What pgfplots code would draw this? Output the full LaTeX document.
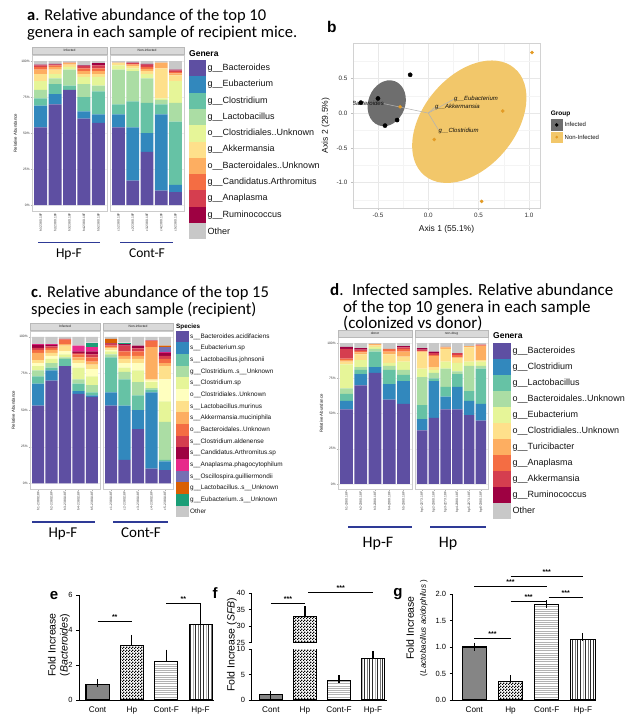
\documentclass[border=0pt]{standalone}
\usepackage{pgfplots}
\pgfplotsset{compat=1.18}
\usepackage{pgfplotstable}
\usepackage{fontspec}
\setmainfont{Liberation Sans}
\newfontfamily\cali{Carlito}
\usetikzlibrary{patterns}
\newcommand\fs[1]{\fontsize{#1}{#1}\selectfont}

\definecolor{ca1}{HTML}{5E4FA2}\definecolor{ca2}{HTML}{3288BD}\definecolor{ca3}{HTML}{66C2A5}
\definecolor{ca4}{HTML}{ABDDA4}\definecolor{ca5}{HTML}{E6F598}\definecolor{ca6}{HTML}{FEE08B}
\definecolor{ca7}{HTML}{FDAE61}\definecolor{ca8}{HTML}{F46D43}\definecolor{ca9}{HTML}{D53E4F}
\definecolor{ca10}{HTML}{9E0142}\definecolor{ca11}{HTML}{C8C8C8}
\definecolor{cc1}{HTML}{5E4FA2}\definecolor{cc2}{HTML}{3288BD}\definecolor{cc3}{HTML}{66C2A5}
\definecolor{cc4}{HTML}{ABDDA4}\definecolor{cc5}{HTML}{E6F598}\definecolor{cc6}{HTML}{FFFFBF}
\definecolor{cc7}{HTML}{FEE08B}\definecolor{cc8}{HTML}{FDAE61}\definecolor{cc9}{HTML}{F46D43}
\definecolor{cc10}{HTML}{D53E4F}\definecolor{cc11}{HTML}{9E0142}\definecolor{cc12}{HTML}{E7298A}
\definecolor{cc13}{HTML}{7570B3}\definecolor{cc14}{HTML}{D95F02}\definecolor{cc15}{HTML}{1B9E77}
\definecolor{cc16}{HTML}{C8C8C8}
\definecolor{hpblue}{HTML}{2E3A96}
\definecolor{stripg}{HTML}{D9D9D9}
\definecolor{ellO}{HTML}{F2C76A}
\definecolor{ellG}{HTML}{6E6E6E}
\definecolor{ptO}{HTML}{E39B25}
\definecolor{contg}{HTML}{858585}

\pgfdeclarepatternformonly{hl}{\pgfpoint{-1pt}{-1pt}}{\pgfpoint{100pt}{1pt}}{\pgfpoint{100pt}{2.2pt}}{%
  \pgfsetlinewidth{0.55pt}\pgfpathmoveto{\pgfqpoint{0pt}{0.5pt}}\pgfpathlineto{\pgfqpoint{100pt}{0.5pt}}\pgfusepath{stroke}}
\pgfdeclarepatternformonly{vl}{\pgfpoint{-1pt}{-1pt}}{\pgfpoint{1pt}{100pt}}{\pgfpoint{2.6pt}{100pt}}{%
  \pgfsetlinewidth{0.8pt}\pgfpathmoveto{\pgfqpoint{0.5pt}{0pt}}\pgfpathlineto{\pgfqpoint{0.5pt}{100pt}}\pgfusepath{stroke}}
\pgfdeclarepatternformonly{ck}{\pgfpointorigin}{\pgfqpoint{2.6pt}{2.6pt}}{\pgfqpoint{2.6pt}{2.6pt}}{%
  \pgfpathrectangle{\pgfpointorigin}{\pgfqpoint{1.35pt}{1.35pt}}%
  \pgfpathrectangle{\pgfqpoint{1.3pt}{1.3pt}}{\pgfqpoint{1.35pt}{1.35pt}}\pgfusepath{fill}}

\pgfplotsset{
 stk/.style={scale only axis, anchor=south west, ybar stacked, bar width=0.9,
   ymin=-4, ymax=104, ytick={0,25,50,75,100}, yticklabels={0\%,25\%,50\%,75\%,100\%},
   axis line style={draw=gray!40, line width=0.35pt},
   tick style={draw=gray!60, line width=0.3pt}, major tick length=1.3pt, tick align=outside,
   tick pos=left, ymajorgrids, grid style={gray!13, line width=0.3pt},
   x tick label style={rotate=90, anchor=east, font=\fs{3.3}, text=gray!40!black, inner sep=0.8pt},
   y tick label style={font=\fs{3.3}, text=gray!40!black, inner sep=0.8pt},
   ylabel style={font=\fs{4.3}, text=gray!15!black}},
 noy/.style={yticklabels={}, y tick style={draw=none}, ylabel={}},
 bot/.style={scale only axis, anchor=south west, axis lines*=left, axis line style={line width=1pt},
   tick style={line width=1pt, black}, major tick length=3pt, tick align=outside,
   x tick style={draw=none},
   xtick={0,1,2,3}, xticklabels={Cont,Hp,Cont-F,Hp-F},
   x tick label style={font=\fs{8.2}},
   y tick label style={font=\fs{7.5}},
   clip=false, ymin=0},
 bs/.style={ybar, bar width=0.67, bar shift=0pt, draw=black, line width=1.1pt,
   error bars/y dir=plus, error bars/y explicit,
   error bars/error bar style={line width=1.1pt, black},
   error bars/error mark options={line width=1.1pt, black, mark size=4pt}},
}
\newcommand{\stackbars}[3]{\pgfplotsinvokeforeach{1,...,#2}{\addplot[fill=#3##1, draw=none] table[x=x,y=s##1]{#1};}}

\begin{document}
\pgfplotstableread{
x s1 s2 s3 s4 s5 s6 s7 s8 s9 s10 s11
1 54 15 5 6 6 5 3 2 1 0.5 2.5
2 70 7 7 4 3 3 2 1 0.5 0.5 2
3 80 0 3 11 2 1.5 1 0.5 0 0 1
4 60 5 10 9 5 2 2 2 1.5 0.5 3
5 57 6 16 4 6 2 2 2 2 1.5 1.5
}\tabAi
\pgfplotstableread{
x s1 s2 s3 s4 s5 s6 s7 s8 s9 s10 s11
1 54 9 7 24 3 1.5 0.5 0 0 0 1
2 17 37 18 21 2 1.5 1 0.5 0.5 0.5 1
3 37 13 21 17 3 2 1.5 1.5 1.5 0.5 2
4 10 53 7 3 1 21 4 0 0 0 1
5 9 5 44 13 15 4 1.5 1 1 0.5 6
}\tabAn
\pgfplotstableread{
x s1 s2 s3 s4 s5 s6 s7 s8 s9 s10 s11 s12 s13 s14 s15 s16
1 53 15 5 4 3 2 2 5 2 1.5 2 0.5 0 0 0 5
2 70 7 2 3 3 2 2 2 1.5 1 1 0.5 0 0 0 5
3 80 0 5 1 2 2 4 1 3 0.5 0 0 0 0 0 1.5
4 61 2 5 3 8 3 2 2 2 1 1 4 0 0 0 6
5 59 1 2 5 6 5 3 2 3 2 2 3 0 0 3 4
}\tabCi
\pgfplotstableread{
x s1 s2 s3 s4 s5 s6 s7 s8 s9 s10 s11 s12 s13 s14 s15 s16
1 53 9 24 2 2 1 1 1 1 1 0.5 0 0 3 0 1.5
2 16 37 18 5 3 3 3 2 3 4 1 0 0 0 1 4
3 37 13 10 9 8 5 3 2 3 2 2 0 0 0 0 6
4 10 52 2 1 4 1 1 22 4 0.5 0 0 0 0 0 2.5
5 9 6 1 26 14 15 9 2 3 2 2 0.5 3.5 1 0 6
}\tabCn
\pgfplotstableread{
x s1 s2 s3 s4 s5 s6 s7 s8 s9 s10 s11
1 53 6 5 4 17 2 1 1 7 1.5 2.5
2 70 8 3 2 5 4 1.5 1 1 1 3.5
3 79 4 11 2 1.5 1 1 0 0 0 0.5
4 60 11 10 3 2 6 2 2 0 0 4
5 57 16 4.5 3.5 6 3.5 3.5 2 1 1 2
}\tabDd
\pgfplotstableread{
x s1 s2 s3 s4 s5 s6 s7 s8 s9 s10 s11
1 38 8 10 20 6 12 0 0.5 1 1 3.5
2 47 26 2 4 2 2 8 0.5 1.5 1 6
3 53 9 7 13 5 9 1 0.5 0 0 2.5
4 53 16 9 2 6 3.5 0.5 1.5 1.5 0 7
5 49 10 7 18 3 10 1 0 0 0 2
6 45 12 25 2 3 1 10 0.5 0.5 0 1
}\tabDn

\begin{tikzpicture}
\path[use as bounding box] (0pt,0pt) rectangle (635pt,-726pt);

% ---------------- panel a ----------------
\begin{axis}[stk, at={(32pt,-210.8pt)}, width=75pt, height=155.5pt, xmin=0.4, xmax=5.6, xtick={1,...,5},
  xticklabels={h1-2380.18F,h2-2380.18F,h3-2380.18F,h4-2380.18F,h5-2380.18F}, ylabel={Relative Abundance}]
\stackbars{\tabAi}{11}{ca}
\end{axis}
\begin{axis}[stk, noy, at={(110pt,-210.8pt)}, width=74pt, height=155.5pt, xmin=0.4, xmax=5.6, xtick={1,...,5},
  xticklabels={c1-2380.18F,c2-2380.18F,c3-2380.18F,c4-2380.18F,c5-2380.18F}]
\stackbars{\tabAn}{11}{ca}
\end{axis}

% ---------------- panel c ----------------
\begin{axis}[stk, at={(30pt,-489.2pt)}, width=70pt, height=158.3pt, xmin=0.4, xmax=5.6, xtick={1,...,5},
  xticklabels={h1-2380.18F,h2-2380.18F,h3-2380.18F,h4-2380.18F,h5-2380.18F}, ylabel={Relative Abundance}]
\stackbars{\tabCi}{16}{cc}
\end{axis}
\begin{axis}[stk, noy, at={(103pt,-489.2pt)}, width=70pt, height=158.3pt, xmin=0.4, xmax=5.6, xtick={1,...,5},
  xticklabels={c1-2380.18F,c2-2380.18F,c3-2380.18F,c4-2380.18F,c5-2380.18F}]
\stackbars{\tabCn}{16}{cc}
\end{axis}

% ---------------- panel d ----------------
\begin{axis}[stk, at={(338pt,-489.6pt)}, width=74pt, height=152pt, xmin=0.4, xmax=5.6, xtick={1,...,5},
  xticklabels={h1-2380.18F,h2-2380.18F,h3-2380.18F,h4-2380.18F,h5-2380.18F}, ylabel={Relative Abundance}]
\stackbars{\tabDd}{11}{ca}
\end{axis}
\begin{axis}[stk, noy, at={(415pt,-489.6pt)}, width=73pt, height=152pt, xmin=0.4, xmax=6.6, xtick={1,...,6},
  xticklabels={hp1-2273.18F,hp2-2380.18F,hp3-2273.18F,hp4-2380.18F,hp5-2273.18F,hp6-2380.18F}]
\stackbars{\tabDn}{11}{ca}
\end{axis}

% ---------------- panel b ----------------
\begin{axis}[scale only axis, anchor=south west, at={(353pt,-208pt)}, width=187pt, height=165pt,
  xmin=-0.748, xmax=1.11, ymin=-1.364, ymax=1.007,
  xtick={-0.5,0,0.5,1}, xticklabels={-0.5,0.0,0.5,1.0},
  ytick={-1,-0.5,0,0.5}, yticklabels={-1.0,-0.5,0.0,0.5},
  minor xtick={-0.25,0.25,0.75}, minor ytick={-1.25,-0.75,-0.25,0.25,0.75},
  xmajorgrids, ymajorgrids, xminorgrids, yminorgrids,
  major grid style={gray!18, line width=0.45pt}, minor grid style={gray!9, line width=0.3pt},
  minor tick length=0pt, major tick length=2pt, tick align=outside, tick pos=left,
  axis line style={gray!35, line width=0.4pt}, tick style={gray!50, line width=0.4pt},
  tick label style={font=\fs{6.3}, text=gray!35!black},
  xlabel={Axis 1 (55.1\%)}, ylabel={Axis 2 (29.5\%)},
  label style={font=\fs{8.5}, text=gray!15!black}]
\fill[ellO] (axis cs:0.4075,-0.124) ellipse [x radius=70pt, y radius=46pt, rotate=50];
\fill[ellG] (axis cs:-0.413,0.141) ellipse [x radius=18.5pt, y radius=23.5pt, rotate=-20];
\draw[gray!60, line width=0.55pt] (axis cs:0,0) -- (axis cs:-0.44,0.135);
\draw[gray!60, line width=0.55pt] (axis cs:0,0) -- (axis cs:0.255,0.2);
\draw[gray!60, line width=0.55pt] (axis cs:0,0) -- (axis cs:0.066,0.086);
\draw[gray!60, line width=0.55pt] (axis cs:0,0) -- (axis cs:0.1,-0.24);
\addplot[only marks, mark=*, mark size=2.1pt, black] coordinates {(-0.67,0.15) (-0.50,0.21) (-0.43,-0.18) (-0.31,-0.10) (-0.18,0.55)};
\addplot[only marks, mark=*, mark size=1.6pt, color=ptO] coordinates {(-0.28,0.09) (0.06,-0.38) (0.74,0.03) (1.03,0.87) (0.53,-1.27)};
\node[anchor=east, inner sep=0pt, font=\fs{6}\itshape, text=gray!10!black] at (axis cs:-0.44,0.135) {g\_\_Bacteroides};
\node[anchor=west, inner sep=0pt, font=\fs{6}\itshape, text=gray!10!black] at (axis cs:0.255,0.2) {g\_\_Eubacterium};
\node[anchor=west, inner sep=0pt, font=\fs{6}\itshape, text=gray!10!black] at (axis cs:0.066,0.086) {g\_\_Akkermansia};
\node[anchor=west, inner sep=0pt, font=\fs{6}\itshape, text=gray!10!black] at (axis cs:0.1,-0.25) {g\_\_Clostridium};
\end{axis}

% ---------------- panel e ----------------
\begin{axis}[bot, at={(79pt,-700pt)}, width=135pt, height=105pt, xmin=-0.54, xmax=3.39, ymax=6,
  ytick={0,2,4,6}, yticklabels={0,2,4,6}]
\addplot[bs, fill=contg] coordinates {(0,0.9) +- (0,0.07)};
\addplot[bs, pattern=ck, pattern color=black] coordinates {(1,3.1) +- (0,0.4)};
\addplot[bs, pattern=hl, pattern color=gray!60] coordinates {(2,2.2) +- (0,0.45)};
\addplot[bs, pattern=vl, pattern color=gray!35!black] coordinates {(3,4.3) +- (0,1.0)};
\draw[line width=0.8pt] (axis cs:0,4.47) -- (axis cs:1,4.47) node[midway, above, inner sep=1.5pt, font=\fs{7}\bfseries] {**};
\draw[line width=0.8pt] (axis cs:2,5.52) -- (axis cs:3,5.52) node[midway, above, inner sep=1.5pt, font=\fs{7}\bfseries] {**};
\end{axis}

% ---------------- panel f ----------------
\begin{axis}[bot, at={(251.5pt,-700pt)}, width=135.5pt, height=50.7pt, xmin=-0.57, xmax=3.41, ymax=10,
  ytick={0,5,10}, yticklabels={0,5,10}, clip=true]
\addplot[bs, fill=contg] coordinates {(0,1.0) +- (0,0.05)};
\addplot[bs, pattern=ck, pattern color=black] coordinates {(1,33) +- (0,1.8)};
\addplot[bs, pattern=hl, pattern color=gray!60] coordinates {(2,3.8) +- (0,0.3)};
\addplot[bs, pattern=vl, pattern color=gray!35!black] coordinates {(3,8.2) +- (0,0.7)};
\end{axis}
\begin{axis}[bot, at={(251.5pt,-642.7pt)}, width=135.5pt, height=49.4pt, xmin=-0.57, xmax=3.41, ymin=25, ymax=40,
  ytick={25,30,35,40}, yticklabels={25,30,35,40}, axis x line=none, xtick=\empty, clip=true, clip mode=individual]
\addplot[bs, pattern=ck, pattern color=black] coordinates {(1,33) +- (0,1.8)};
\draw[line width=0.8pt] (axis cs:0,37) -- (axis cs:1,37) node[midway, above, inner sep=1.5pt, font=\fs{7}\bfseries] {***};
\draw[line width=0.8pt] (axis cs:1.1,40.3) -- (axis cs:3,40.3) node[midway, above, inner sep=1.5pt, font=\fs{7}\bfseries] {***};
\end{axis}

% ---------------- panel g ----------------
\begin{axis}[bot, at={(452.6pt,-700pt)}, width=143pt, height=106pt, xmin=-0.6, xmax=3.35, ymax=2,
  ytick={0,0.5,1,1.5,2}, yticklabels={0.0,0.5,1.0,1.5,2.0}]
\addplot[bs, fill=contg] coordinates {(0,1.0) +- (0,0.005)};
\addplot[bs, pattern=ck, pattern color=black] coordinates {(1,0.35) +- (0,0.04)};
\addplot[bs, pattern=hl, pattern color=gray!60] coordinates {(2,1.8) +- (0,0.01)};
\addplot[bs, pattern=vl, pattern color=gray!35!black] coordinates {(3,1.15) +- (0,0.04)};
\draw[line width=0.8pt] (axis cs:0,1.164) -- (axis cs:1,1.164) node[midway, above, inner sep=1.5pt, font=\fs{7}\bfseries] {***};
\draw[line width=0.8pt] (axis cs:1,1.855) -- (axis cs:2,1.855) node[midway, above, inner sep=1.5pt, font=\fs{7}\bfseries] {***};
\draw[line width=0.8pt] (axis cs:2.05,1.93) -- (axis cs:3,1.93) node[midway, above, inner sep=1.5pt, font=\fs{7}\bfseries] {***};
\draw[line width=0.8pt] (axis cs:0,2.14) -- (axis cs:2,2.14) node[midway, above, inner sep=1.5pt, font=\fs{7}\bfseries] {***};
\draw[line width=0.8pt] (axis cs:1,2.34) -- (axis cs:3,2.34) node[midway, above, inner sep=1.5pt, font=\fs{7}\bfseries] {***};
\end{axis}

% ---------------- decorations ----------------
\begin{scope}[x=1pt,y=-1pt]
% titles
\node[anchor=base west, inner sep=0pt, font=\cali\fs{16.5}] at (27,20.7) {\textbf{a}. Relative abundance of the top 10};
\node[anchor=base west, inner sep=0pt, font=\cali\fs{16.5}] at (27,37.5) {genera in each sample of recipient mice.};
\node[anchor=base west, inner sep=0pt, font=\cali\fs{16.5}] at (31,297) {\textbf{c}. Relative abundance of the top 15};
\node[anchor=base west, inner sep=0pt, font=\cali\fs{16.5}] at (31,314.5) {species in each sample (recipient)};
\node[anchor=base west, inner sep=0pt, font=\cali\fs{17}] at (330,295) {\textbf{d}.\enspace Infected samples. Relative abundance};
\node[anchor=base west, inner sep=0pt, font=\cali\fs{17}] at (343,312) {of the top 10 genera in each sample};
\node[anchor=base west, inner sep=0pt, font=\cali\fs{17}] at (343,328) {(colonized vs donor)};
\node[anchor=base west, inner sep=0pt, font=\fs{15.5}\bfseries] at (327,32) {b};
\node[anchor=base, inner sep=0pt, font=\fs{15}\bfseries] at (54,599) {e};
\node[anchor=base, inner sep=0pt, font=\fs{15}\bfseries] at (215,598) {f};
\node[anchor=base, inner sep=0pt, font=\fs{15}\bfseries] at (398,596) {g};
% strips
\filldraw[fill=stripg, draw=gray!55, line width=0.3pt] (32,47) rectangle (107,54.5);
\filldraw[fill=stripg, draw=gray!55, line width=0.3pt] (110,47) rectangle (184,54.5);
\node[font=\fs{3.3}, text=gray!20!black] at (69.5,50.8) {Infected};
\node[font=\fs{3.3}, text=gray!20!black] at (147,50.8) {Non-infected};
\filldraw[fill=stripg, draw=gray!55, line width=0.3pt] (30,323) rectangle (100,330.3);
\filldraw[fill=stripg, draw=gray!55, line width=0.3pt] (103,323) rectangle (173,330.3);
\node[font=\fs{3.3}, text=gray!20!black] at (65,326.7) {Infected};
\node[font=\fs{3.3}, text=gray!20!black] at (138,326.7) {Non-infected};
\filldraw[fill=stripg, draw=gray!55, line width=0.3pt] (338,330) rectangle (412,337.2);
\filldraw[fill=stripg, draw=gray!55, line width=0.3pt] (415,330) rectangle (488,337.2);
\node[font=\fs{3.3}, text=gray!20!black] at (375,333.6) {donor};
\node[font=\fs{3.3}, text=gray!20!black] at (451.5,333.6) {non-drug};
% group bars
\draw[hpblue, line width=1.8pt] (38,242.5) -- (100,242.5);
\draw[hpblue, line width=1.8pt] (120,242.5) -- (173,242.5);
\node[anchor=base, inner sep=0pt, font=\cali\fs{13.5}] at (69,257.5) {Hp-F};
\node[anchor=base, inner sep=0pt, font=\cali\fs{13.5}] at (147,257.5) {Cont-F};
\draw[hpblue, line width=1.8pt] (32,522.3) -- (95,522.3);
\draw[hpblue, line width=1.8pt] (113,522.3) -- (168,522.3);
\node[anchor=base, inner sep=0pt, font=\cali\fs{15}] at (63,537) {Hp-F};
\node[anchor=base, inner sep=0pt, font=\cali\fs{15}] at (141,537) {Cont-F};
\draw[hpblue, line width=1.8pt] (348,526.7) -- (412,526.7);
\draw[hpblue, line width=1.8pt] (430,526.7) -- (486,526.7);
\node[anchor=base, inner sep=0pt, font=\cali\fs{16}] at (378,547) {Hp-F};
\node[anchor=base, inner sep=0pt, font=\cali\fs{16}] at (448,547) {Hp};
% legend a
\node[anchor=base west, inner sep=0pt, font=\fs{8.5}\bfseries] at (189,56.5) {Genera};
\foreach \i/\lab in {1/{g\_\_Bacteroides},2/{g\_\_Eubacterium},3/{g\_\_Clostridium},4/{g\_\_Lactobacillus},5/{o\_\_Clostridiales..Unknown},6/{g\_\_Akkermansia},7/{o\_\_Bacteroidales..Unknown},8/{g\_\_Candidatus.Arthromitus},9/{g\_\_Anaplasma},10/{g\_\_Ruminococcus},11/{Other}}{
  \fill[ca\i] (189,{60+(\i-1)*16.3}) rectangle ++(17,16.3);
  \node[anchor=west, inner sep=0pt, font=\fs{9}, text=gray!15!black] at (207.5,{60+(\i-0.5)*16.3}) {\lab};
}
% legend c
\node[anchor=base west, inner sep=0pt, font=\fs{6.3}\bfseries] at (176,328) {Species};
\foreach \i/\lab in {1/{s\_\_Bacteroides.acidifaciens},2/{s\_\_Eubacterium.sp},3/{s\_\_Lactobacillus.johnsonii},4/{g\_\_Clostridium..s\_\_Unknown},5/{s\_\_Clostridium.sp},6/{o\_\_Clostridiales..Unknown},7/{s\_\_Lactobacillus.murinus},8/{s\_\_Akkermansia.muciniphila},9/{o\_\_Bacteroidales..Unknown},10/{s\_\_Clostridium.aldenense},11/{s\_\_Candidatus.Arthromitus.sp},12/{s\_\_Anaplasma.phagocytophilum},13/{s\_\_Oscillospira.guilliermondii},14/{g\_\_Lactobacillus..s\_\_Unknown},15/{g\_\_Eubacterium..s\_\_Unknown},16/{Other}}{
  \fill[cc\i] (176,{330.7+(\i-1)*11.67}) rectangle ++(12.5,11.67);
  \node[anchor=west, inner sep=0pt, font=\fs{6.4}, text=gray!15!black] at (190,{330.7+(\i-0.5)*11.67}) {\lab};
}
% legend d
\node[anchor=base west, inner sep=0pt, font=\fs{8.5}\bfseries] at (493,338.5) {Genera};
\foreach \i/\lab in {1/{g\_\_Bacteroides},2/{g\_\_Clostridium},3/{g\_\_Lactobacillus},4/{o\_\_Bacteroidales..Unknown},5/{g\_\_Eubacterium},6/{o\_\_Clostridiales..Unknown},7/{g\_\_Turicibacter},8/{g\_\_Anaplasma},9/{g\_\_Akkermansia},10/{g\_\_Ruminococcus},11/{Other}}{
  \fill[ca\i] (493,{342.7+(\i-1)*16}) rectangle ++(18,16);
  \node[anchor=west, inner sep=0pt, font=\fs{9}, text=gray!15!black] at (512.5,{342.7+(\i-0.5)*16}) {\lab};
}
% legend b
\node[anchor=base west, inner sep=0pt, font=\fs{6.5}\bfseries] at (550.7,115.5) {Group};
\fill[ellG] (550.7,119.3) rectangle (562.7,130.5);
\fill[black] (556.7,124.9) circle[radius=1.9pt];
\fill[ellO] (550.7,131.7) rectangle (562.7,142.7);
\fill[ptO] (556.7,137.2) circle[radius=1.5pt];
\node[anchor=west, inner sep=0pt, font=\fs{6}, text=gray!15!black] at (564.5,124.6) {Infected};
\node[anchor=west, inner sep=0pt, font=\fs{6}, text=gray!15!black] at (564.5,137) {Non-Infected};
% y labels of e, f, g
\node[rotate=90, align=center, inner sep=0pt, font=\fontsize{10.5}{12}\selectfont] at (59,645) {Fold Increase\\(\textit{Bacteroides})};
\node[rotate=90, inner sep=0pt, font=\fs{10.5}] at (232,645) {Fold Increase (\textit{SFB})};
\node[rotate=90, align=center, inner sep=0pt, font=\fontsize{10.5}{12}\selectfont] at (417,628) {Fold Increase\\{\fs{8}(\textit{Lactobacillus acidophilus} )}};
\end{scope}
\end{tikzpicture}
\end{document}
